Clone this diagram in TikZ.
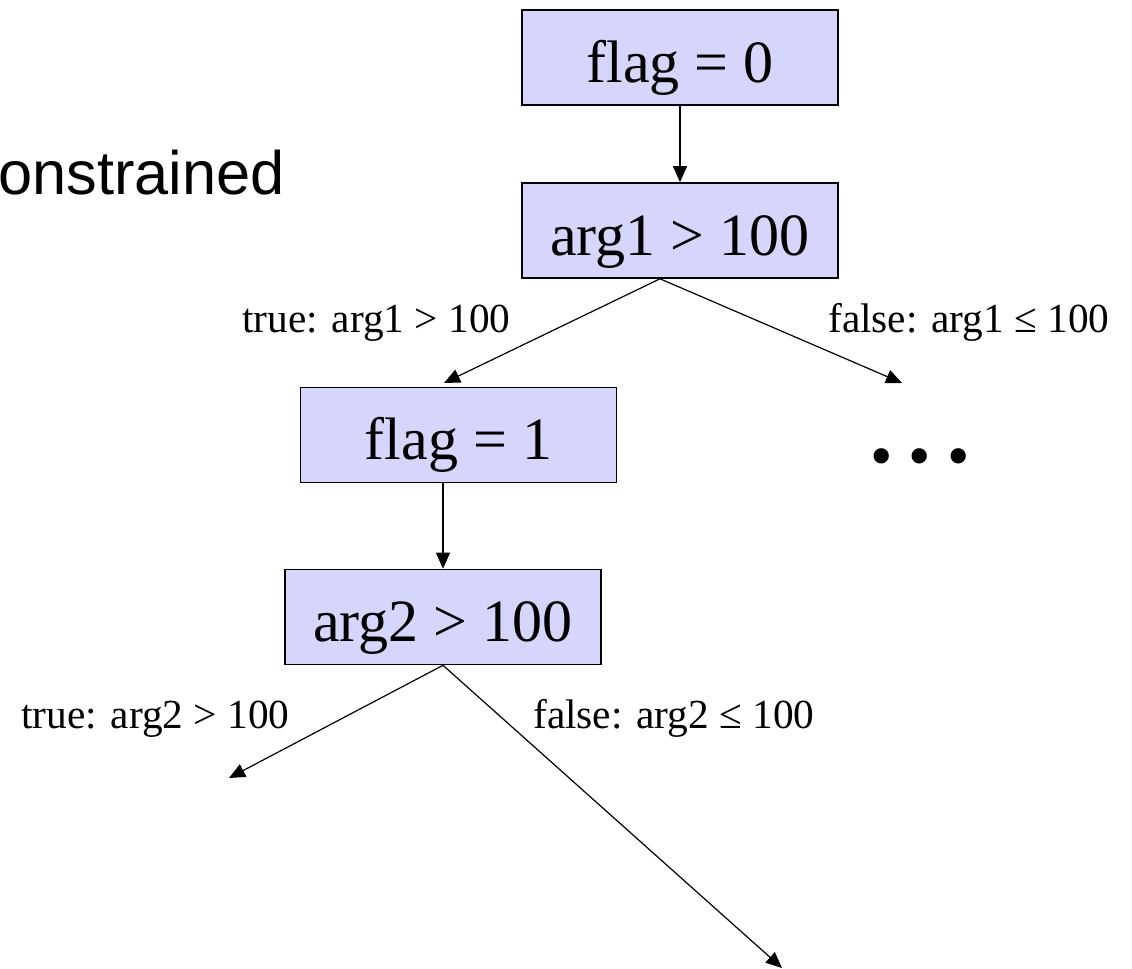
\documentclass[tikz,border=0pt]{standalone}
\usepackage{fontspec}
\setmainfont{Liberation Serif}
\newfontfamily\slidefont{Liberation Sans}
\usetikzlibrary{arrows.meta,positioning}
\definecolor{boxfill}{RGB}{214,214,252}
\tikzset{
condbox/.style={draw=black, line width=1.2pt, fill=boxfill, minimum width=237pt, minimum height=71.25pt, inner sep=0pt, text height=47.5pt, text depth=10pt, font=\fontsize{45}{54}\selectfont},
arr/.style={->,>={Triangle[length=12pt,width=10.5pt]},line width=0.9pt},
branch/.style={anchor=base west, inner sep=0pt, font=\fontsize{31}{37}\selectfont},
}

\begin{document}
\begin{tikzpicture}[x=0.75pt,y=-0.75pt]
        \useasboundingbox (0,0) rectangle (1132,969);
        \node[anchor=base west, inner sep=0pt, font=\slidefont\fontsize{46}{55}\selectfont] (title) at (-2,195) {onstrained};

        \node[condbox] (flag0) at (680,57.5) {flag = 0};
        \node[condbox] (arg1) at (680,230.5) {arg1 > 100};
        \node[condbox] (flag1) at (458.5,435) {flag = 1};
        \node[condbox] (arg2) at (443,617) {arg2 > 100};
        \node[font=\fontsize{48}{58}\selectfont] (more) at (920,463) {• • •};

        \coordinate (t1) at (444,383);
        \coordinate (f1) at (902,383);
        \coordinate (t2) at (229,778);
        \coordinate (f2) at (782,968);

        \draw[arr] (flag0) -- (arg1);
        \draw[arr] ([xshift=-15pt]arg1.south) -- (t1);
        \draw[arr] ([xshift=-15pt]arg1.south) -- (f1);
        \draw[arr] (arg2.north |- flag1.south) -- (arg2.north);
        \draw[arr] (arg2.south) -- (t2);
        \draw[arr] (arg2.south) -- (f2);

        \node[branch] (true1) at (242,333) {true: arg1 > 100};
        \node[branch] (false1) at (828,333) {false: arg1 ≤ 100};
        \node[branch] (true2) at (21,728) {true: arg2 > 100};
        \node[branch] (false2) at (533,728) {false: arg2 ≤ 100};
    \end{tikzpicture}
\end{document}
